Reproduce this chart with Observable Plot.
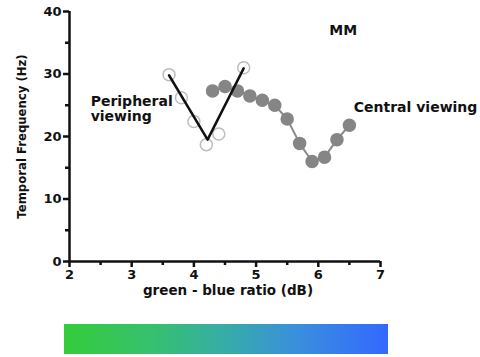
<!DOCTYPE html>
<html><head><meta charset="utf-8">
<script src="https://cdn.jsdelivr.net/npm/d3@7"></script>
<script src="https://cdn.jsdelivr.net/npm/@observablehq/plot@0.6"></script>
<style>
body{margin:0;background:#fff;font-family:"DejaVu Sans",sans-serif;}
#bar{margin-left:64px;margin-top:14px;width:324px;height:30px;background:linear-gradient(to right,#34cc3a 0%,#36c070 28%,#36aca8 50%,#3a8fdc 72%,#3368ff 100%);}
</style></head><body>
<div id="chart"></div>
<div id="bar"></div>
<script>
const periphX = [3.6, 3.8, 4.0, 4.2, 4.4, 4.8];
const periphY = [29.9, 26.2, 22.4, 18.7, 20.4, 31.0];
const fitX = [3.6, 4.22, 4.8];
const fitY = [29.8, 19.5, 30.9];
const centralX = [4.3, 4.5, 4.7, 4.9, 5.1, 5.3, 5.5, 5.7, 5.9, 6.1, 6.3, 6.5];
const centralY = [27.3, 28.0, 27.3, 26.5, 25.8, 25.0, 22.8, 18.9, 16.0, 16.7, 19.5, 21.8];
const xMajor = [2, 3, 4, 5, 6, 7];
const xMinor = [2.5, 3.5, 4.5, 5.5, 6.5];
const yMajor = [0, 10, 20, 30, 40];
const yMinor = [5, 15, 25, 35];
const titleLabel = [{x: 6.4, y: 37, text: "MM"}];
const sideLabels = [
  {x: 2.34, y: 24.4, text: "Peripheral\nviewing"},
  {x: 6.57, y: 24.6, text: "Central viewing"}
];

const periph = periphX.map((x, i) => ({x, y: periphY[i]}));
const fit = fitX.map((x, i) => ({x, y: fitY[i]}));
const central = centralX.map((x, i) => ({x, y: centralY[i]}));
const F = "DejaVu Sans, sans-serif";

const plot = Plot.plot({
  width: 480, height: 310,
  marginLeft: 69, marginRight: 100, marginTop: 11, marginBottom: 49,
  style: {fontFamily: F, fontWeight: "bold", color: "#111"},
  x: {domain: [2, 7]},
  y: {domain: [0, 40]},
  marks: [
    Plot.axisX({ticks: xMajor, tickFormat: d3.format("d"), tickSize: 6, tickPadding: 2, fontSize: 13, fontWeight: "bold", strokeWidth: 2.5,
      label: null}),
    Plot.axisX({ticks: xMinor, tickSize: 4, text: null, label: null, strokeWidth: 2.5}),
    Plot.axisY({ticks: yMajor, tickFormat: d3.format("d"), tickSize: 6, tickPadding: 2, fontSize: 13, fontWeight: "bold", strokeWidth: 2.5,
      label: null}),
    Plot.axisY({ticks: yMinor, tickSize: 4, text: null, label: null, strokeWidth: 2.5}),
    Plot.ruleY([0], {stroke: "#111", strokeWidth: 2.5}),
    Plot.ruleX([2], {stroke: "#111", strokeWidth: 2.5}),
    Plot.text(["green - blue ratio (dB)"], {frameAnchor: "bottom", textAnchor: "middle", dx: 3, dy: 33, fontSize: 13.5, fontWeight: "bold", fill: "#111"}),
    Plot.text(["Temporal Frequency (Hz)"], {frameAnchor: "left", textAnchor: "middle", dx: -47, rotate: -90, fontSize: 11.7, fontWeight: "bold", fill: "#111"}),
    Plot.line(central, {x: "x", y: "y", stroke: "#8a8a8a", strokeWidth: 2}),
    Plot.dot(central, {x: "x", y: "y", r: 6, fill: "#858585", stroke: "#858585"}),
    Plot.dot(periph, {x: "x", y: "y", r: 6, fill: "white", stroke: "#bdbdbd", strokeWidth: 1.5}),
    Plot.line(fit, {x: "x", y: "y", stroke: "#111", strokeWidth: 2.5}),
    Plot.text(titleLabel, {x: "x", y: "y", text: "text", textAnchor: "middle", fontSize: 14, fontWeight: "bold", fill: "#111"}),
    Plot.text(sideLabels, {x: "x", y: "y", text: "text", textAnchor: "start", fontSize: 14, fontWeight: "bold", fill: "#111", lineHeight: 1.05})
  ]
});
document.getElementById("chart").appendChild(plot);
</script>
</body></html>
